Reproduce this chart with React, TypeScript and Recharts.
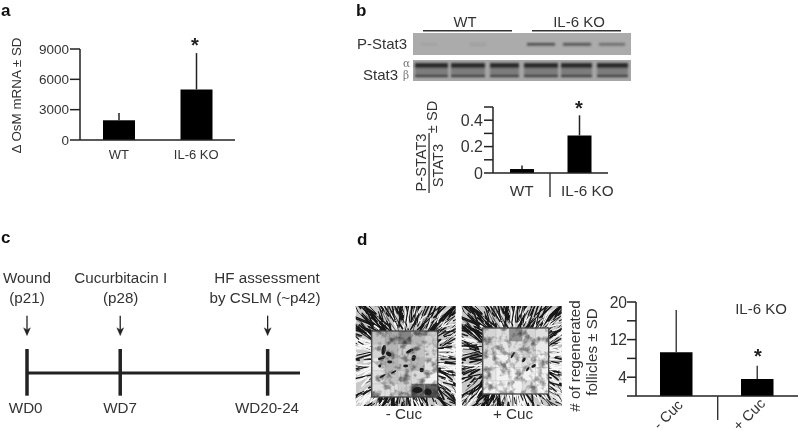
import React from 'react';
import { BarChart, Bar, XAxis, YAxis, ErrorBar, ScatterChart, Scatter, ReferenceLine } from 'recharts';

// ---- panel a
const osmGroups = ['WT', 'IL-6 KO'];
const osmValues = [1950, 5000];
const osmSd = [720, 3600];
const osmTicks = [0, 3000, 6000, 9000];
// ---- panel b
const statGroups = ['WT', 'IL-6 KO'];
const statValues = [0.03, 0.285];
const statSd = [0.027, 0.152];
const statTicks = [0, 0.1, 0.2, 0.3, 0.4, 0.5];
const statLabelled = [0, 0.2, 0.4];
// ---- panel c
const timePoints = [0, 7, 18.07];
const timeLabels = ['WD0', 'WD7', 'WD20-24'];
// ---- panel d
const follicleGroups = ['- Cuc', '+ Cuc'];
const follicleValues = [9.3, 3.6];
const follicleSd = [9.0, 2.85];
const follicleTicks = [0, 4, 8, 12, 16, 20];
const follicleLabelled = [4, 12, 20];

const FONT = '"Liberation Sans", Arial, sans-serif';
const INK = '#333333';
const AXIS = '#222222';

const rows = (names: string[], vals: number[], sds: number[]) =>
  names.map((name, i) => ({ name, value: vals[i], err: [0, sds[i]] }));

const hash = (n: number) => {
  const s = Math.sin(n * 127.1 + 311.7) * 43758.5453;
  return s - Math.floor(s);
};

function Micrograph({ x, y, ix, iy, seed, blobs, tints, weights }: any) {
  const strokes: any[] = [];
  for (let i = 0; i < 1100; i++) {
    const a = hash(seed + i) * Math.PI * 2;
    const r0 = 24 + hash(seed + i + 500) * 58;
    const len = 5 + hash(seed + i + 900) * 20;
    const cx = 50 + Math.cos(a) * r0;
    const cy = 50 + Math.sin(a) * r0;
    const turn = a + (hash(seed + i + 210) - 0.5) * 0.9;
    const ux = Math.cos(a);
    const uy = Math.sin(a);
    const p = uy < -0.4 ? weights[0] : ux < -0.4 ? weights[1] : uy > 0.4 ? weights[2] : weights[3];
    strokes.push(
      <line key={i} x1={cx} y1={cy} x2={cx + Math.cos(turn) * len} y2={cy + Math.sin(turn) * len}
        stroke={hash(seed + i + 1300) < p ? '#141414' : '#f8f8f8'}
        strokeLinecap="round" strokeWidth={0.5 + hash(seed + i + 33) * 1.4} />
    );
  }
  const id = 'clip' + seed;
  return (
    <g transform={`translate(${x},${y})`}>
      <defs>
        <clipPath id={id}><rect width={100} height={100} /></clipPath>
      </defs>
      <g clipPath={`url(#${id})`}>
        <rect width={100} height={100} fill="#c8c8c8" />
        <g filter="url(#soft)">{strokes}</g>
        <rect x={ix} y={iy} width={66} height={66} fill="#f2f2f2" />
        <g filter="url(#soft)">
          {tints.map((t: number[], i: number) => (
            <rect key={i} x={ix + t[0] * 13.2} y={iy + t[1] * 13.2} width={13.2} height={13.2} fill="#000" opacity={t[2]} />
          ))}
        </g>
        <rect x={ix} y={iy} width={66} height={66} filter={`url(#mottle${seed})`} opacity={0.5} />
        <g filter="url(#soft)">
          {blobs.map((b: number[], i: number) => (
            <ellipse key={i} cx={b[0]} cy={b[1]} rx={b[2]} ry={b[3]} fill="#1a1a1a"
              transform={`rotate(${b[4]} ${b[0]} ${b[1]})`} />
          ))}
        </g>
        {[1, 2, 3, 4].map((k) => (
          <g key={k} stroke="#9a9a9a" strokeWidth={0.5} opacity={0.6}>
            <line x1={ix + k * 13.2} y1={iy} x2={ix + k * 13.2} y2={iy + 66} />
            <line x1={ix} y1={iy + k * 13.2} x2={ix + 66} y2={iy + k * 13.2} />
          </g>
        ))}
        <rect x={ix} y={iy} width={66} height={66} fill="none" stroke="#444" strokeWidth={1.3} />
      </g>
    </g>
  );
}

const leftTints = [[0,0,.2],[1,0,.3],[2,0,.45],[3,0,.25],[4,0,.15],[0,1,.12],[1,1,.25],[2,1,.15],[3,1,.2],[4,1,.1],[0,2,.05],[1,2,.25],[2,2,.2],[3,2,.25],[4,2,.08],[0,3,.08],[1,3,.2],[2,3,.15],[3,3,.1],[0,4,.08],[1,4,.08],[2,4,.15],[3,4,.55],[4,4,.6]];
const rightTints = [[0,0,.12],[1,0,.08],[2,0,.4],[3,0,.12],[4,0,.08],[0,1,.12],[1,1,.05],[2,1,.08],[3,1,.15],[4,1,.03],[0,2,.05],[2,2,.05],[3,2,.08],[0,3,.05],[3,4,.08]];
const leftBlobs = [[28,44,2,5,10],[33,48,3,2,30],[26,52,4,1.4,-20],[34,56,2.5,1.4,0],[54,45,4,1.4,-30],[58,52,2,3,20],[50,60,2.5,1.4,0],[27,70,3.5,1,-30],[38,66,3,1,-30],[62,84,5,3,0],[72,86,4,3,0],[24,60,1.4,1.4,0],[66,64,2.2,2.2,0]];
const rightBlobs = [[51,49,1,3.5,30],[62,54,1.4,2.6,40],[72,60,2.6,1.4,-30],[66,63,1.1,2.6,30]];

const Y_TICK = { fill: INK, fontFamily: FONT };

function Blot() {
  const lanes1 = [[527, 28, 0.8], [563, 28, 0.75], [599, 26, 0.55], [421, 16, 0.06], [470, 16, 0.1]];
  const lanes2 = [[415, 33], [451, 34], [490, 29], [524, 34], [561, 31], [597, 31]];
  return (
    <g>
      <rect x={413} y={33} width={218} height={22} fill="#ababab" />
      <rect x={413} y={60} width={218} height={21} fill="#a6a6a6" />
      <g filter="url(#soft2)">
        {lanes1.map((l, i) => (
          <rect key={i} x={l[0]} y={43} width={l[1]} height={2.6} fill="#333" opacity={l[2]} />
        ))}
        {lanes2.map((l, i) => (
          <g key={i}>
            <rect x={l[0]} y={63} width={l[1]} height={5.5} fill="#2c2c2c" />
            <rect x={l[0]} y={68} width={l[1]} height={6} fill="#7d7d7d" />
            <rect x={l[0]} y={74.5} width={l[1]} height={2.6} fill="#3a3a3a" />
          </g>
        ))}
      </g>
    </g>
  );
}

export default function App() {
  const rotLabel = (cx: number, cy: number, s: string, size = 14.6, fill = INK) => (
    <text transform={`translate(${cx},${cy}) rotate(-90)`} textAnchor="middle" fontSize={size} fill={fill}>{s}</text>
  );
  const t = (x: number, y: number, s: string, size = 15.2, anchor = 'middle') => (
    <text x={x} y={y} textAnchor={anchor as any} fontSize={size} fill={INK}>{s}</text>
  );
  const letter = (x: number, y: number, s: string) => (
    <text x={x} y={y} fontSize={17} fontWeight="bold" fill="#111">{s}</text>
  );
  const star = (x: number, y: number) => (
    <text x={x} y={y} textAnchor="middle" fontSize={20} fontWeight="bold" fill="#222">*</text>
  );

  return (
    <div style={{ position: 'absolute', left: 0, top: 0, width: 800, height: 431, background: '#fff', overflow: 'hidden', fontFamily: FONT, filter: 'blur(0.35px)' }}>
      {/* a */}
      <div style={{ position: 'absolute', left: 0, top: 0 }}>
        <BarChart width={240} height={170} data={rows(osmGroups, osmValues, osmSd)} margin={{ top: 49, right: 5, bottom: 0, left: 0 }}>
          <XAxis dataKey="name" height={30} tickLine={false} axisLine={{ stroke: AXIS, strokeWidth: 1.5 }} tick={{ fill: INK, fontSize: 13, fontFamily: FONT }} tickMargin={4} />
          <YAxis width={80} domain={[0, 9000]} ticks={osmTicks} interval={0} tickSize={10} tickLine={{ stroke: AXIS, strokeWidth: 1.5 }} axisLine={{ stroke: AXIS, strokeWidth: 1.5 }} tick={{ ...Y_TICK, fontSize: 13.5 }} tickMargin={1} />
          <Bar dataKey="value" fill="#000" barSize={32} isAnimationActive={false}>
            <ErrorBar dataKey="err" width={0} stroke={AXIS} strokeWidth={1.5} direction="y" />
          </Bar>
        </BarChart>
      </div>

      {/* b */}
      <div style={{ position: 'absolute', left: 420, top: 90 }}>
        <BarChart width={204} height={120} data={rows(statGroups, statValues, statSd)} margin={{ top: 17, right: 16, bottom: 0, left: 0 }}>
          <XAxis dataKey="name" height={37} tickLine={false} axisLine={{ stroke: AXIS, strokeWidth: 1.5 }}
            tick={(p: any) => (
              <text x={p.x + (p.payload.value === 'WT' ? 0 : 8)} y={p.y + 15} textAnchor="middle" fontSize={15.3} fontFamily={FONT} fill={INK}>{p.payload.value}</text>
            )} />
          <YAxis width={73} domain={[0, 0.5]} ticks={statTicks} interval={0} tickSize={9} tickLine={{ stroke: AXIS, strokeWidth: 1.5 }} axisLine={{ stroke: AXIS, strokeWidth: 1.5 }}
            tick={{ ...Y_TICK, fontSize: 16 }} tickMargin={1}
            tickFormatter={(v: number) => (statLabelled.includes(v) ? (v === 0 ? '0' : v.toFixed(1)) : '')} />
          <Bar dataKey="value" fill="#000" barSize={24} isAnimationActive={false}>
            <ErrorBar dataKey="err" width={0} stroke={AXIS} strokeWidth={1.5} direction="y" />
          </Bar>
        </BarChart>
      </div>

      {/* c */}
      <div style={{ position: 'absolute', left: 0, top: 303 }}>
        <ScatterChart width={320} height={140} margin={{ top: 0, right: 20, bottom: 0, left: 27 }}>
          <XAxis type="number" dataKey="x" domain={[0, 20.5]} hide />
          <YAxis type="number" dataKey="y" domain={[-1, 1]} hide />
          <ReferenceLine y={0} stroke="#222" strokeWidth={3} />
          {timePoints.map((p) => (
            <ReferenceLine key={p} segment={[{ x: p, y: -0.324 }, { x: p, y: 0.343 }]} stroke="#222" strokeWidth={3.5} />
          ))}
          <Scatter data={timePoints.map((x) => ({ x, y: 0.533 }))} isAnimationActive={false}
            shape={(p: any) => (
              <g stroke="#222" fill="#222">
                <line x1={p.cx} y1={p.cy - 20} x2={p.cx} y2={p.cy - 6} strokeWidth={1.3} />
                <path d={`M${p.cx - 3.5} ${p.cy - 8}L${p.cx} ${p.cy - 6}L${p.cx + 3.5} ${p.cy - 8}L${p.cx} ${p.cy}Z`} strokeWidth={0.3} />
              </g>
            )} />
        </ScatterChart>
      </div>

      {/* d */}
      <div style={{ position: 'absolute', left: 590, top: 280 }}>
        <BarChart width={208} height={151} data={rows(follicleGroups, follicleValues, follicleSd)} margin={{ top: 22, right: 0, bottom: 0, left: 0 }}>
          <XAxis dataKey="name" height={35} tickLine={false} axisLine={{ stroke: AXIS, strokeWidth: 1.5 }}
            tick={(p: any) => (
              <text transform={`translate(${p.x - 5},${p.y + 14}) rotate(-45)`} textAnchor="middle" fontSize={14.5} fontFamily={FONT} fill={INK}>{p.payload.value}</text>
            )} />
          <YAxis width={46} domain={[0, 20]} ticks={follicleTicks} interval={0} tickSize={9} tickLine={{ stroke: AXIS, strokeWidth: 1.5 }} axisLine={{ stroke: AXIS, strokeWidth: 1.5 }}
            tick={{ ...Y_TICK, fontSize: 15.6 }} tickMargin={0}
            tickFormatter={(v: number) => (follicleLabelled.includes(v) ? String(v) : '')} />
          <Bar dataKey="value" fill="#000" barSize={32.5} isAnimationActive={false}>
            <ErrorBar dataKey="err" width={0} stroke="#444" strokeWidth={1.5} direction="y" />
          </Bar>
        </BarChart>
      </div>

      {/* annotations */}
      <svg width={800} height={431} style={{ position: 'absolute', left: 0, top: 0, pointerEvents: 'none' }} fontFamily={FONT}>
        <defs>
          <filter id="soft"><feGaussianBlur stdDeviation="0.55" /></filter>
          <filter id="soft2"><feGaussianBlur stdDeviation="0.9" /></filter>
          {[11, 47].map((s) => (
            <filter key={s} id={`mottle${s}`} x="0" y="0" width="1" height="1">
              <feTurbulence type="fractalNoise" baseFrequency="0.13" numOctaves="3" seed={s} />
              <feColorMatrix values="0 0 0 0 0  0 0 0 0 0  0 0 0 0 0  3 0 0 0 -1.35" />
            </filter>
          ))}
        </defs>

        {letter(1, 16, 'a')}
        {letter(356, 16, 'b')}
        {letter(1, 243, 'c')}
        {letter(357, 245, 'd')}

        {rotLabel(21, 95.5, 'Δ OsM mRNA ± SD', 13.4)}
        {star(195, 52)}

        <Blot />
        <rect x={423} y={30} width={89} height={1.5} fill="#333" />
        <rect x={532} y={30} width={89} height={1.5} fill="#333" />
        {t(465, 27, 'WT', 14.8)}
        {t(579, 27, 'IL-6 KO', 15)}
        {t(357, 49, 'P-Stat3', 15, 'start')}
        {t(363, 80, 'Stat3', 15, 'start')}
        <text x={403} y={67} fontSize={10.5} fill="#777" fontFamily='"DejaVu Serif", serif'>α</text>
        <text x={403} y={79} fontSize={10.5} fill="#777" fontFamily='"DejaVu Serif", serif'>β</text>
        {rotLabel(426, 162.5, 'P-STAT3', 14.6)}
        {rotLabel(443, 165.5, 'STAT3', 14.6)}
        {rotLabel(437, 117, '± SD', 14.6)}
        <rect x={428.4} y={133} width={1.3} height={60} fill="#333" />
        <rect x={549.3} y={173} width={1.4} height={24} fill="#333" />
        {star(579, 115)}

        {t(27, 283, 'Wound')}
        {t(27, 303, '(p21)')}
        {t(120.7, 283, 'Cucurbitacin I')}
        {t(120.7, 303, '(p28)')}
        {t(267, 283, 'HF assessment')}
        {t(265, 303, 'by CSLM (~p42)')}
        {timeLabels.map((s, i) => (
          <React.Fragment key={s}>{t(i === 0 ? 25.7 : i === 1 ? 120 : 267, 413, s)}</React.Fragment>
        ))}

        <Micrograph x={355.7} y={306} ix={16} iy={25} seed={11} blobs={leftBlobs} tints={leftTints} weights={[0.8, 0.45, 0.6, 0.4]} />
        <Micrograph x={461.7} y={306} ix={21} iy={22} seed={47} blobs={rightBlobs} tints={rightTints} weights={[0.8, 0.75, 0.45, 0.3]} />
        {t(404, 419, '- Cuc')}
        {t(513, 419, '+ Cuc')}
        {rotLabel(580, 356, '# of regenerated', 15.2)}
        {rotLabel(597, 352, 'follicles ± SD', 15.2)}
        {t(761, 314, 'IL-6 KO', 15)}
        {star(758, 363)}
        <rect x={717} y={396} width={1.4} height={24} fill="#333" />
      </svg>
    </div>
  );
}
